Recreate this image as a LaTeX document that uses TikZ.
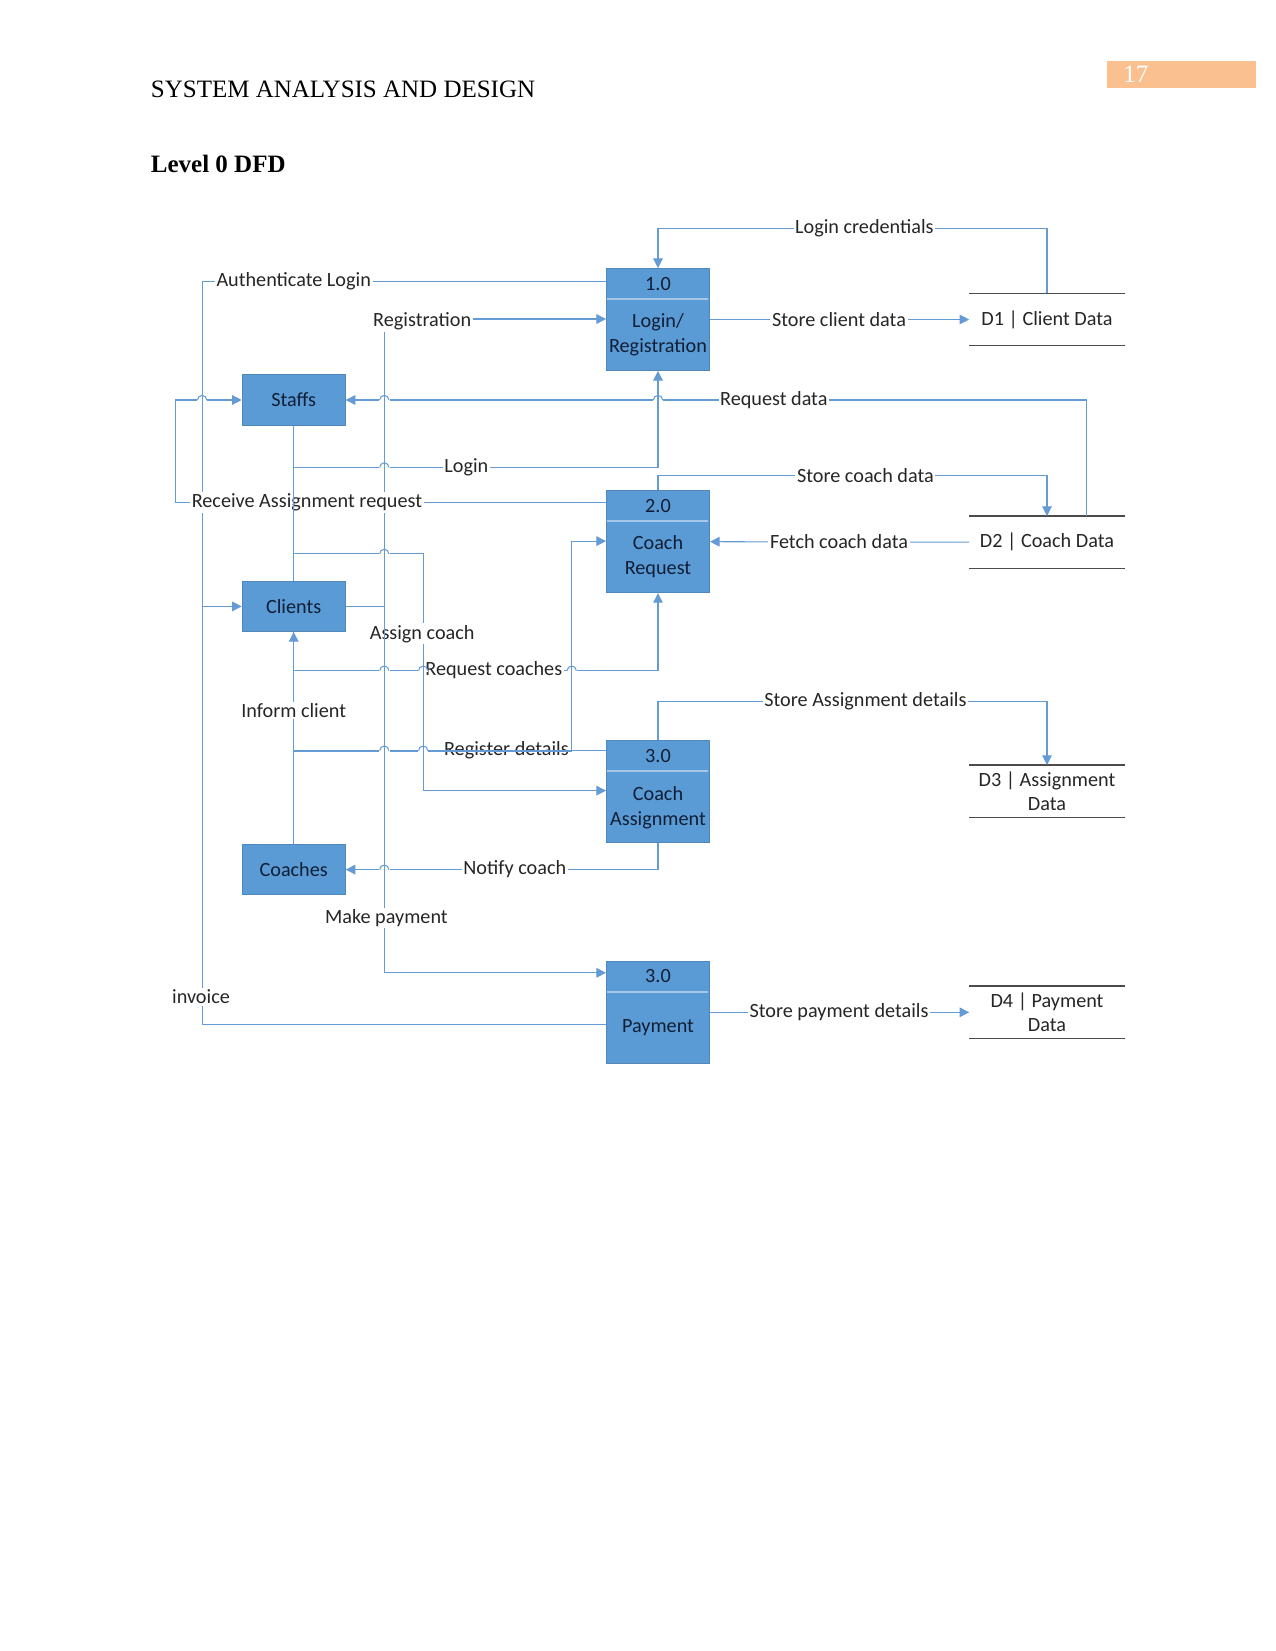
\documentclass[tikz,border=0pt]{standalone}
\usepackage{fontspec}
\setmainfont{Liberation Serif}
\newfontfamily\carl{Carlito}
\usetikzlibrary{arrows.meta}
\definecolor{boxblue}{RGB}{91,155,213}
\definecolor{linkblue}{RGB}{100,155,212}
\definecolor{boxtext}{RGB}{16,30,54}
\definecolor{pgorange}{RGB}{250,192,143}
\newcommand\hopover[2]{%
  \draw[white,line width=1.6pt] ([xshift=-2.5pt]#1,#2) -- ([xshift=2.5pt]#1,#2);
  \draw[flow] (#1,#2-7) -- (#1,#2+7);
  \draw[flow] ([xshift=-2.2pt]#1,#2) arc[start angle=180,end angle=0,radius=2.2pt];}
\begin{document}
\begin{tikzpicture}[x=0.48pt,y=-0.48pt,
  flow/.style={draw=linkblue,line width=0.5pt},
  arr/.style={-{Triangle[length=4.6pt,width=4.6pt]}},
  proc/.style={fill=boxblue,draw=boxblue!88!black,line width=0.4pt,minimum width=49.5pt,minimum height=49pt,inner sep=0pt},
  ent/.style={fill=boxblue,draw=boxblue!88!black,line width=0.4pt,minimum width=49.5pt,minimum height=24.2pt,inner sep=0pt,font=\carl\fontsize{9.7}{11.8}\selectfont,text=boxtext},
  ptxt/.style={font=\carl\fontsize{9.7}{12.1}\selectfont,text=boxtext,align=center,inner sep=0pt},
  div/.style={draw=boxblue!55!white,line width=0.8pt},
  lbl/.style={fill=white,inner sep=0.8pt,font=\carl\fontsize{9.7}{11.8}\selectfont,text=black!85},
  store/.style={minimum width=74.3pt,minimum height=24.8pt,inner sep=0pt,align=center,font=\carl\fontsize{9.7}{11.6}\selectfont,text=black!85},
  storeline/.style={draw=black!70,line width=0.6pt}
]
\fill[white] (0,0) rectangle (1275,1651);
\useasboundingbox (0,0) rectangle (1275,1651);

% page header
\node[anchor=base west,inner sep=0pt,font=\fontsize{12}{14}\selectfont] (hdr) at (150.5,98) {SYSTEM ANALYSIS AND DESIGN};
\node[anchor=base west,inner sep=0pt,font=\bfseries\fontsize{12}{14}\selectfont] (ttl) at (150.5,173) {Level 0 DFD};
\fill[pgorange] (1106.5,61) rectangle (1256,88.4);
\node[anchor=base west,inner sep=0pt,text=white,font=\fontsize{12}{14}\selectfont] (pgno) at (1123,83) {17};

% rows and columns
\coordinate (yLC) at (0,228.5);
\coordinate (yAuth) at (0,281.1);
\coordinate (yReg) at (0,319);
\coordinate (yLogin) at (0,467.4);
\coordinate (ySCD) at (0,475.9);
\coordinate (yRec) at (0,502.2);
\coordinate (yRDa) at (0,541.1);
\coordinate (yAC) at (0,553.8);
\coordinate (yRC) at (0,670.6);
\coordinate (ySA) at (0,701.2);
\coordinate (yRDt) at (0,750.6);
\coordinate (yACb) at (0,790.6);
\coordinate (yPay) at (0,972.8);
\coordinate (yInv) at (0,1024.4);
\coordinate (xA) at (175.8,0);
\coordinate (xB) at (202.1,0);
\coordinate (xR) at (384.3,0);
\coordinate (xS) at (423.2,0);
\coordinate (xT) at (571.7,0);
\coordinate (xU) at (1086.5,0);

% processes
\node[proc] (p1) at (658,319.5) {};
\node[proc] (p2) at (658,541.7) {};
\node[proc] (p3) at (658,791.2) {};
\node[proc] (p4) at (658,1012.3) {};
\draw[div] (p1.north west) ++(0.8,31) -- ++(101.6,0);
\draw[div] (p2.north west) ++(0.8,31) -- ++(101.6,0);
\draw[div] (p3.north west) ++(0.8,31) -- ++(101.6,0);
\draw[div] (p4.north west) ++(0.8,31) -- ++(101.6,0);
\node[ptxt] (p1id) at (658,284.3) {1.0};
\node[ptxt] (p1name) at (658,335) {Login/\\Registration};
\node[ptxt] (p2id) at (658,506.4) {2.0};
\node[ptxt] (p2name) at (658,557) {Coach\\Request};
\node[ptxt] (p3id) at (658,756) {3.0};
\node[ptxt] (p3name) at (658,807.5) {Coach\\Assignment};
\node[ptxt] (p4id) at (658,976) {3.0};
\node[ptxt] (p4name) at (658,1027.5) {Payment};

% external entities
\node[ent] (staffs) at (293.7,400) {Staffs};
\node[ent] (clients) at (293.7,606.4) {Clients};
\node[ent] (coaches) at (293.7,869.6) {Coaches};

% data stores
\node[store] (d1) at (1047,319.5) {D1 | Client Data};
\node[store] (d2) at (1047,542.2) {D2 | Coach Data};
\node[store] (d3) at (1047,791.2) {D3 | Assignment\\Data};
\node[store] (d4) at (1047,1012.3) {D4 | Payment\\Data};
\foreach \d in {d1,d2,d3,d4}{
  \draw[storeline] (\d.north west) -- (\d.north east) (\d.south west) -- (\d.south east);
}

% connectors
\draw[flow,arr] (d1.north) -- (d1.north |- yLC) -- (p1.north |- yLC) -- (p1.north);
\draw[flow,arr] (p1.east) -- (d1.west);
\draw[flow,arr] (p1.west |- yAuth) -- (xB |- yAuth) -- (xB |- clients.west) -- (clients.west);
\draw[flow] (p4.west |- yInv) -- (xB |- yInv) -- (xB |- clients.west);
\draw[flow,arr] (p2.west |- yRec) -- (xA |- yRec) -- (xA |- staffs.west) -- (staffs.west);
\draw[flow,arr] (clients.east) -- (xR |- clients.east) -- (xR |- yReg) -- (p1.west |- yReg);
\draw[flow,arr] (clients.east) -- (xR |- clients.east) -- (xR |- yPay) -- (p4.west |- yPay);
\draw[flow,arr] (d2.north -| xU) -- (xU |- staffs.east) -- (staffs.east);
\draw[flow,arr] (clients.north) -- (clients.north |- yLogin) -- (p1.south |- yLogin) -- (p1.south);
\draw[flow,arr] (staffs.south) -- (staffs.south |- yAC) -- (xS |- yAC) -- (xS |- yACb) -- (p3.west |- yACb);
\draw[flow,arr] (p2.north) -- (p2.north |- ySCD) -- (d2.north |- ySCD) -- (d2.north);
\draw[flow,arr] (d2.west) -- (p2.east);
\draw[flow,arr] (clients.south) -- (clients.south |- yRC) -- (p2.south |- yRC) -- (p2.south);
\draw[flow,arr] (coaches.north) -- (coaches.north |- yRDt) -- (xT |- yRDt) -- (xT |- yRDa) -- (p2.west |- yRDa);
\draw[flow,arr] (p3.west |- yRDt) -- (clients.south |- yRDt) -- (clients.south);
\draw[flow,arr] (p3.north) -- (p3.north |- ySA) -- (d3.north |- ySA) -- (d3.north);
\draw[flow,arr] (p3.south) -- (p3.south |- coaches.east) -- (coaches.east);
\draw[flow,arr] (p4.east) -- (d4.west);

% labels
\node[lbl] (lLC) at (864.4,228.5) {Login credentials};
\node[lbl] (lAuth) at (293.7,281.1) {Authenticate Login};
\node[lbl] (lReg) at (422.2,321.5) {Registration};
\node[lbl] (lSCl) at (839,319.5) {Store client data};
\node[lbl] (lRD) at (773.8,400) {Request data};
\node[lbl] (lLogin) at (466.4,467.4) {Login};
\node[lbl] (lSCD) at (865.4,475.9) {Store coach data};
\node[lbl] (lRec) at (306.9,502.2) {Receive Assignment request};
\node[lbl] (lFCD) at (839,541.5) {Fetch coach data};
\node[lbl] (lAC) at (422.2,633.8) {Assign coach};
\node[lbl] (lRC) at (493.8,670.6) {Request coaches};
\node[lbl] (lIC) at (293.7,710.6) {Inform client};
\node[lbl] (lSA) at (865.4,701.2) {Store Assignment details};
\node[lbl] (lRDt) at (506.4,750.6) {Register details};
\node[lbl] (lNC) at (514.8,869.6) {Notify coach};
\node[lbl] (lMP) at (386.4,918) {Make payment};
\node[lbl] (lInv) at (201,997) {invoice};
\node[lbl] (lSP) at (839,1012.3) {Store payment details};

% lines drawn over other labels (overlapping flows look heavier)
\draw[flow] (staffs.south |- 0,490) -- (staffs.south |- 0,515);
\draw[flow] (xR |- 0,622) -- (xR |- 0,646);
\draw[flow,line width=0.9pt] (clients.south |- yRDt) -- (xT |- yRDt);

% line hops
\hopover{202.1}{400}
\hopover{384.3}{400}
\hopover{658}{400}
\hopover{384.3}{467.4}
\hopover{384.3}{553.8}
\hopover{384.3}{670.6}
\hopover{423.2}{670.6}
\hopover{571.7}{670.6}
\hopover{384.3}{750.6}
\hopover{423.2}{750.6}
\hopover{384.3}{869.6}
\end{tikzpicture}
\end{document}
